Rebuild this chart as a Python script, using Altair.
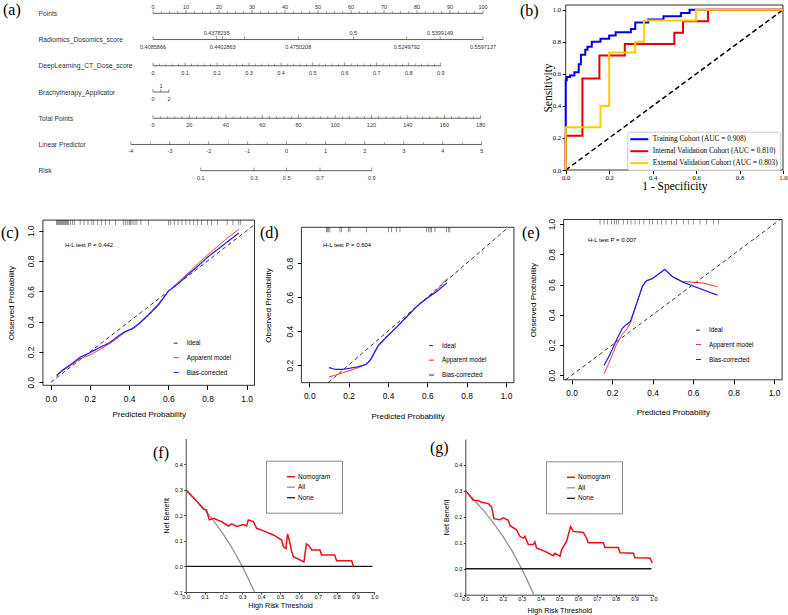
import altair as alt
import pandas as pd
import numpy as np

W, H = 788, 615
SANS = "Liberation Sans"
SERIF = "Liberation Serif"

# ---------------- (a) nomogram data ----------------
nomo_rows = ["Points", "Radiomics_Dosomics_score", "DeepLearning_CT_Dose_score",
             "Brachytherapy_Applicator", "Total Points", "Linear Predictor", "Risk"]
nomo_line_start = [0, 0, 0, 0, 0, -6.7, 14.5]
nomo_line_end = [100, 100, 87.2, 4.85, 99.3, 99.6, 66.3]

points_labels = ["0", "10", "20", "30", "40", "50", "60", "70", "80", "90", "100"]
points_pos = [0, 10, 20, 30, 40, 50, 60, 70, 80, 90, 100]
radio_above_labels = ["0.4378235", "0.5", "0.5399149"]
radio_above_pos = [19.3, 60.7, 87.0]
radio_below_labels = ["0.4085866", "0.4402863", "0.4750208", "0.5249792", "0.5597137"]
radio_below_pos = [0, 21.1, 44.0, 76.9, 100]
radio_extra_tick_pos = [27.7]
deep_labels = ["0", "0.1", "0.2", "0.3", "0.4", "0.5", "0.6", "0.7", "0.8", "0.9"]
deep_pos = [0, 9.7, 19.4, 29.1, 38.8, 48.4, 58.1, 67.8, 77.5, 87.2]
brachy_above_labels = ["1"]
brachy_above_pos = [2.4]
brachy_below_labels = ["0", "2"]
brachy_below_pos = [0, 4.85]
total_labels = ["0", "20", "40", "60", "80", "100", "120", "140", "160", "180"]
total_pos = [0, 11.0, 22.1, 33.1, 44.1, 55.2, 66.2, 77.2, 88.3, 99.3]
lp_labels = ["-4", "-3", "-2", "-1", "0", "1", "2", "3", "4", "5"]
lp_pos = [-6.7, 5.1, 16.9, 28.7, 40.5, 52.3, 64.2, 76.0, 87.8, 99.6]
risk_labels = ["0.1", "0.3", "0.5", "0.7", "0.9"]
risk_pos = [14.5, 30.6, 40.5, 50.6, 66.3]
minor_div = {"Points": 4, "DeepLearning_CT_Dose_score": 5, "Total Points": 5, "Linear Predictor": 2}

# ---------------- (b) ROC data ----------------
cohorts = ["Training Cohort (AUC = 0.908)", "Internal Validation Cohort (AUC = 0.810)",
           "External Validation Cohort (AUC = 0.803)"]
train_fpr = [0, 0, 0.005, 0.005, 0.02, 0.02, 0.04, 0.04, 0.06, 0.06, 0.07, 0.07, 0.09, 0.09, 0.10, 0.10,
             0.12, 0.12, 0.16, 0.16, 0.20, 0.20, 0.23, 0.23, 0.30, 0.30, 0.32, 0.32, 0.38, 0.38, 0.45, 0.45,
             0.53, 0.53, 0.57, 0.57, 1.0]
train_tpr = [0, 0.56, 0.56, 0.58, 0.58, 0.59, 0.59, 0.61, 0.61, 0.66, 0.66, 0.72, 0.72, 0.75, 0.75, 0.77,
             0.77, 0.80, 0.80, 0.82, 0.82, 0.84, 0.84, 0.86, 0.86, 0.88, 0.88, 0.92, 0.92, 0.94, 0.94, 0.96,
             0.96, 0.98, 0.98, 1.0, 1.0]
int_fpr = [0, 0, 0.077, 0.077, 0.155, 0.155, 0.272, 0.272, 0.5, 0.5, 0.54, 0.54, 0.655, 0.655, 1.0]
int_tpr = [0, 0.214, 0.214, 0.571, 0.571, 0.714, 0.714, 0.786, 0.786, 0.857, 0.857, 0.929, 0.929, 1.0, 1.0]
ext_fpr = [0, 0, 0.16, 0.16, 0.2, 0.2, 0.32, 0.32, 0.36, 0.36, 0.6, 0.6, 1.0]
ext_tpr = [0, 0.267, 0.267, 0.4, 0.4, 0.733, 0.733, 0.8, 0.8, 0.933, 0.933, 1.0, 1.0]
roc_diag = [0, 1]

# ---------------- (c)(d)(e) calibration data ----------------
cal_series = ["Ideal", "Apparent model", "Bias-corrected"]
c_pred = [0.03, 0.06, 0.10, 0.15, 0.20, 0.25, 0.30, 0.35, 0.38, 0.42, 0.45, 0.50, 0.55, 0.60, 0.65, 0.70,
          0.75, 0.80, 0.85, 0.90, 0.96]
c_app = [0.04, 0.075, 0.11, 0.155, 0.18, 0.215, 0.255, 0.30, 0.33, 0.36, 0.39, 0.45, 0.52, 0.60, 0.66, 0.72,
         0.78, 0.84, 0.895, 0.95, 1.01]
c_bias = [0.045, 0.08, 0.115, 0.165, 0.195, 0.23, 0.26, 0.31, 0.335, 0.355, 0.385, 0.445, 0.51, 0.60, 0.65,
          0.71, 0.765, 0.825, 0.875, 0.925, 0.985]
c_rug = [0.03, 0.035, 0.04, 0.045, 0.05, 0.055, 0.06, 0.065, 0.07, 0.075, 0.08, 0.085, 0.09, 0.1, 0.11,
         0.12, 0.15, 0.17, 0.19, 0.21, 0.22, 0.24, 0.26, 0.28, 0.3, 0.33, 0.37, 0.38, 0.39, 0.4, 0.405,
         0.41, 0.42, 0.43, 0.44, 0.46, 0.5, 0.6, 0.61, 0.63, 0.65, 0.67, 0.69, 0.71, 0.73, 0.75, 0.77,
         0.8, 0.82, 0.85, 0.9, 0.93, 0.96, 0.97]
c_diag = [0.0, 1.04]

d_pred = [0.10, 0.13, 0.17, 0.20, 0.25, 0.29, 0.31, 0.35, 0.40, 0.45, 0.50, 0.55, 0.60, 0.65, 0.70]
d_app = [0.13, 0.14, 0.155, 0.165, 0.185, 0.205, 0.225, 0.31, 0.37, 0.43, 0.49, 0.55, 0.595, 0.645, 0.71]
d_bias = [0.185, 0.175, 0.175, 0.18, 0.19, 0.205, 0.23, 0.315, 0.375, 0.43, 0.49, 0.55, 0.595, 0.635, 0.685]
d_rug = [0.088, 0.093, 0.097, 0.105, 0.156, 0.164, 0.198, 0.207, 0.292, 0.402, 0.419, 0.444, 0.461,
         0.597, 0.605, 0.614, 0.622, 0.639, 0.698, 0.707, 0.715]
d_diag = [0.096, 1.012]

e_pred = [0.16, 0.19, 0.22, 0.25, 0.27, 0.29, 0.32, 0.35, 0.37, 0.40, 0.43, 0.46, 0.50, 0.55, 0.60, 0.65, 0.72]
e_app = [0.01, 0.10, 0.20, 0.27, 0.30, 0.345, 0.47, 0.59, 0.625, 0.64, 0.67, 0.70, 0.65, 0.62, 0.615, 0.61, 0.585]
e_bias = [0.065, 0.14, 0.23, 0.31, 0.335, 0.355, 0.47, 0.59, 0.625, 0.64, 0.67, 0.70, 0.65, 0.615, 0.59, 0.565, 0.53]
e_rug = [0.14, 0.16, 0.176, 0.198, 0.211, 0.222, 0.232, 0.255, 0.275, 0.293, 0.313, 0.334, 0.357, 0.384,
         0.4, 0.423, 0.445, 0.466, 0.494, 0.519, 0.552, 0.576, 0.601, 0.634, 0.667, 0.7, 0.725]
e_diag = [-0.03, 1.03]

# ---------------- (f)(g) decision curves ----------------
dca_series = ["Nomogram", "All", "None"]
all_t = [0, 0.05, 0.1, 0.15, 0.2, 0.25, 0.3, 0.33, 0.365]
all_nb = [0.3, 0.263, 0.222, 0.176, 0.125, 0.067, 0.0, -0.045, -0.1]
none_t = [0, 0.99]
none_nb = [0, 0]
f_t = [0.0, 0.05, 0.094, 0.11, 0.125, 0.147, 0.19, 0.226, 0.244, 0.27, 0.306, 0.323, 0.332, 0.359, 0.376,
       0.41, 0.465, 0.509, 0.518, 0.532, 0.54, 0.549, 0.562, 0.571, 0.627, 0.64, 0.655, 0.668, 0.712, 0.72,
       0.79, 0.80, 0.88, 0.89]
f_nb = [0.30, 0.262, 0.224, 0.221, 0.182, 0.188, 0.175, 0.158, 0.166, 0.156, 0.164, 0.158, 0.182, 0.175,
        0.149, 0.14, 0.123, 0.103, 0.077, 0.07, 0.127, 0.103, 0.058, 0.038, 0.018, 0.088, 0.08, 0.064, 0.064,
        0.045, 0.045, 0.022, 0.022, 0.0]
g_t = [0.0, 0.043, 0.069, 0.087, 0.122, 0.14, 0.152, 0.184, 0.202, 0.229, 0.238, 0.273, 0.29, 0.309, 0.317,
       0.335, 0.362, 0.37, 0.379, 0.424, 0.468, 0.477, 0.504, 0.512, 0.539, 0.56, 0.574, 0.628, 0.645, 0.654,
       0.734, 0.743, 0.814, 0.823, 0.894, 0.902, 0.982, 0.995]
g_nb = [0.302, 0.264, 0.263, 0.256, 0.251, 0.238, 0.193, 0.189, 0.196, 0.187, 0.166, 0.15, 0.125, 0.118,
        0.125, 0.093, 0.093, 0.103, 0.08, 0.067, 0.05, 0.06, 0.048, 0.073, 0.106, 0.163, 0.144, 0.14, 0.118,
        0.10, 0.10, 0.082, 0.082, 0.062, 0.06, 0.042, 0.041, 0.022]


def lin(v0, v1, r0, r1):
    return alt.Scale(domain=[v0, v1], range=[r0, r1], nice=False, zero=False)


def num_expr(fmt):
    return ("datum.value < 0 ? '-' + format(-datum.value, '" + fmt + "') : format(datum.value, '"
            + fmt + "')")


def xaxis(y_px, values, title, title_y, font, lsize, tsize, tick, pad, domain=False, fmt=".1f",
          color="black"):
    return alt.Axis(orient="bottom", offset=y_px - H, values=values, title=title,
                    titleY=title_y - y_px, titleBaseline="middle", titleFont=font, titleFontSize=tsize,
                    titleFontWeight="normal", titleColor="black", labelFont=font, labelFontSize=lsize,
                    labelColor="black", tickSize=tick, labelPadding=pad, labelFlush=False,
                    labelOverlap=False, grid=False, domain=domain, domainColor=color, tickColor=color,
                    labelExpr=num_expr(fmt))


def yaxis(x_px, values, title, title_x, font, lsize, tsize, tick, pad, rotated=False, domain=False,
          fmt=".1f", color="black"):
    extra = {}
    if rotated:
        extra = dict(labelAngle=270, labelAlign="center", labelBaseline="bottom")
    return alt.Axis(orient="left", offset=-x_px, values=values, title=title, titleX=title_x - x_px,
                    titleBaseline="middle", titleFont=font, titleFontSize=tsize, titleFontWeight="normal",
                    titleColor="black", labelFont=font, labelFontSize=lsize, labelColor="black",
                    tickSize=tick, labelPadding=pad, labelFlush=False, labelOverlap=False, grid=False,
                    domain=domain, domainColor=color, tickColor=color, labelExpr=num_expr(fmt), **extra)


units = []

# ================= (a) nomogram panel =================
nx = lin(0, 100, 153, 483)
ny = alt.Scale(type="point", domain=nomo_rows, range=[13.3, 170.7], padding=0)

lines_df = pd.DataFrame({"row": nomo_rows, "start": nomo_line_start, "end": nomo_line_end})
specs = [
    ("Points", points_labels, points_pos, "above"),
    ("Radiomics_Dosomics_score", radio_above_labels, radio_above_pos, "above"),
    ("Radiomics_Dosomics_score", radio_below_labels, radio_below_pos, "below"),
    ("DeepLearning_CT_Dose_score", deep_labels, deep_pos, "below"),
    ("Brachytherapy_Applicator", brachy_above_labels, brachy_above_pos, "above"),
    ("Brachytherapy_Applicator", brachy_below_labels, brachy_below_pos, "below"),
    ("Total Points", total_labels, total_pos, "below"),
    ("Linear Predictor", lp_labels, lp_pos, "below"),
    ("Risk", risk_labels, risk_pos, "below"),
]
lab_rows = []
for row, labs, pos, side in specs:
    for l, p in zip(labs, pos):
        lab_rows.append({"row": row, "pos": p, "label": l, "side": side})
lab_df = pd.DataFrame(lab_rows)
major_df = pd.concat([lab_df[["row", "pos"]],
                      pd.DataFrame({"row": ["Radiomics_Dosomics_score"] * len(radio_extra_tick_pos),
                                    "pos": radio_extra_tick_pos})], ignore_index=True)
minor_rows = []
pos_lookup = {"Points": points_pos, "DeepLearning_CT_Dose_score": deep_pos, "Total Points": total_pos,
              "Linear Predictor": lp_pos}
for row, div in minor_div.items():
    ps = pos_lookup[row]
    for a, b in zip(ps[:-1], ps[1:]):
        for v in np.linspace(a, b, div + 1)[1:-1]:
            minor_rows.append({"row": row, "pos": float(v)})
minor_df = pd.DataFrame(minor_rows)

ncol = "#3a3a3a"
units.append(alt.Chart(lines_df).mark_rule(color=ncol, strokeWidth=0.8).encode(
    x=alt.X("start:Q", scale=nx, axis=None), x2="end",
    y=alt.Y("row:N", scale=ny, sort=nomo_rows,
            axis=alt.Axis(orient="left", offset=-38, domain=False, ticks=False, tickSize=0, labelPadding=0,
                          labelAlign="left", labelFont=SANS, labelFontSize=6.7, labelColor="#333333",
                          title=None, labelLimit=200))))
units.append(alt.Chart(major_df).mark_tick(color=ncol, size=3.5, thickness=0.7, yOffset=-1.5).encode(
    x=alt.X("pos:Q", scale=nx, axis=None), y=alt.Y("row:N", scale=ny, sort=nomo_rows, axis=None)))
units.append(alt.Chart(minor_df).mark_tick(color=ncol, size=2.5, thickness=0.6, yOffset=-1).encode(
    x=alt.X("pos:Q", scale=nx, axis=None), y=alt.Y("row:N", scale=ny, sort=nomo_rows, axis=None)))
units.append(alt.Chart(lab_df[lab_df.side == "above"]).mark_text(
    font=SANS, fontSize=5.5, color="#333333", baseline="middle", dy=-6.5).encode(
    x=alt.X("pos:Q", scale=nx, axis=None), y=alt.Y("row:N", scale=ny, sort=nomo_rows, axis=None),
    text="label:N"))
units.append(alt.Chart(lab_df[lab_df.side == "below"]).mark_text(
    font=SANS, fontSize=5.5, color="#333333", baseline="middle", dy=7).encode(
    x=alt.X("pos:Q", scale=nx, axis=None), y=alt.Y("row:N", scale=ny, sort=nomo_rows, axis=None),
    text="label:N"))

# ================= (b) ROC panel =================
bx = lin(0, 1, 565.7, 783)
by = lin(0, 1.03, 170, 5)
roc_df = pd.concat([
    pd.DataFrame({"c": cohorts[0], "i": range(len(train_fpr)), "fpr": train_fpr, "tpr": train_tpr}),
    pd.DataFrame({"c": cohorts[1], "i": range(len(int_fpr)), "fpr": int_fpr, "tpr": int_tpr}),
    pd.DataFrame({"c": cohorts[2], "i": range(len(ext_fpr)), "fpr": ext_fpr, "tpr": ext_tpr}),
], ignore_index=True)
box_b = pd.DataFrame({"x0": [0], "x1": [1], "y0": [0], "y1": [1.03]})
units.append(alt.Chart(box_b).mark_rect(fillOpacity=0, stroke="black", strokeWidth=0.8).encode(
    x=alt.X("x0:Q", scale=bx, axis=xaxis(170, [0, 0.2, 0.4, 0.6, 0.8, 1.0], "1 - Specificity", 186.7,
                                         SERIF, 6.7, 11.5, 3.5, 1)),
    x2="x1",
    y=alt.Y("y0:Q", scale=by, axis=yaxis(565.7, [0, 0.2, 0.4, 0.6, 0.8, 1.0], "Sensitivity", 548.3,
                                         SERIF, 6.7, 11.5, 3.5, 1.5)),
    y2="y1"))
units.append(alt.Chart(pd.DataFrame({"x": roc_diag, "y": roc_diag})).mark_line(
    color="black", strokeDash=[5, 3], strokeWidth=1.5).encode(
    x=alt.X("x:Q", scale=bx, axis=None), y=alt.Y("y:Q", scale=by, axis=None)))
units.append(alt.Chart(roc_df).mark_line(strokeWidth=2).encode(
    x=alt.X("fpr:Q", scale=bx, axis=None), y=alt.Y("tpr:Q", scale=by, axis=None),
    order="i:Q",
    color=alt.Color("c:N", scale=alt.Scale(domain=cohorts, range=["#0000e6", "#e60000", "#ffcc00"]),
                    legend=alt.Legend(orient="none", legendX=627.3, legendY=131.7, title=None,
                                      labelFont=SERIF, labelFontSize=7.3, labelColor="black",
                                      symbolType="M-2,0H2", symbolSize=81, symbolStrokeWidth=2,
                                      symbolOffset=4.5, labelOffset=8, strokeColor="#cccccc",
                                      fillColor="white", cornerRadius=2, padding=2, rowPadding=2,
                                      labelLimit=300))))


# ================= (c)(d)(e) calibration panels =================
def cal_panel(xr, ydom, yr, yvals, diag, pred, app, bias, rug, xlab_pad, xtitle_y, ytitle_x,
              leg_xy, hl_text, hl_xy):
    xs = lin(-0.04, 1.04, xr[0], xr[1])
    ys = lin(ydom[0], ydom[1], yr[0], yr[1])
    cs = alt.Scale(domain=cal_series, range=["black", "#ff1a1a", "#1a1aff"])
    dash = alt.Scale(domain=cal_series, range=[[4, 3], [1, 0], [1, 0]])
    widths = alt.Scale(domain=cal_series, range=[0.8, 1.2, 1.2])
    box = pd.DataFrame({"x0": [-0.04], "x1": [1.04], "y0": [ydom[0]], "y1": [ydom[1]]})
    out = []
    out.append(alt.Chart(box).mark_rect(fillOpacity=0, stroke="black", strokeWidth=0.8).encode(
        x=alt.X("x0:Q", scale=xs, axis=xaxis(yr[0], [0, 0.2, 0.4, 0.6, 0.8, 1.0], "Predicted Probability",
                                             xtitle_y, SANS, 8.4, 8, 4, xlab_pad)),
        x2="x1",
        y=alt.Y("y0:Q", scale=ys, axis=yaxis(xr[0], yvals, "Observed Probability", ytitle_x, SANS, 8.4, 8,
                                             4, 3, rotated=True)),
        y2="y1"))
    cdf = pd.concat([
        pd.DataFrame({"p": diag, "o": diag, "s": "Ideal", "k": 0}),
        pd.DataFrame({"p": pred, "o": app, "s": "Apparent model", "k": 1}),
        pd.DataFrame({"p": pred, "o": bias, "s": "Bias-corrected", "k": 2}),
    ], ignore_index=True)
    out.append(alt.Chart(cdf).mark_line().encode(
        x=alt.X("p:Q", scale=xs, axis=None), y=alt.Y("o:Q", scale=ys, axis=None),
        strokeDash=alt.StrokeDash("s:N", scale=dash, legend=None),
        strokeWidth=alt.StrokeWidth("s:N", scale=widths, legend=None),
        color=alt.Color("s:N", scale=cs,
                        legend=alt.Legend(orient="none", legendX=leg_xy[0], legendY=leg_xy[1], title=None,
                                          labelFont=SANS, labelFontSize=6.3, labelColor="black",
                                          symbolType="stroke", symbolSize=25, symbolStrokeWidth=1.2,
                                          labelOffset=7, padding=0, rowPadding=7.5))))
    out.append(alt.Chart(pd.DataFrame({"p": rug})).mark_tick(
        orient="vertical", size=5, thickness=0.6, color="black", yOffset=2.5).encode(
        x=alt.X("p:Q", scale=xs, axis=None),
        y=alt.YDatum(ydom[1], type="quantitative", scale=ys, axis=None)))
    out.append(alt.Chart(pd.DataFrame({"t": [hl_text]})).mark_text(
        font=SANS, fontSize=6, align="left", baseline="middle", color="black").encode(
        x=alt.value(hl_xy[0]), y=alt.value(hl_xy[1]), text="t:N"))
    return out


units += cal_panel([42.9, 254.5], [-0.02, 1.07], [385.3, 220.1], [0, 0.2, 0.4, 0.6, 0.8, 1.0], c_diag,
                   c_pred, c_app, c_bias, c_rug, 5, 414.3, 11, [172.7, 340], "H-L test P = 0.442",
                   [65, 245])
units += cal_panel([301.4, 513.9], [0.096, 1.012], [382.7, 227.3], [0.2, 0.4, 0.6, 0.8], d_diag,
                   d_pred, d_app, d_bias, d_rug, 5, 416.7, 268.3, [428, 342.5], "H-L test P = 0.604",
                   [323, 245])
units += cal_panel([563.6, 782.1], [-0.03, 1.03], [379.8, 219.5], [0, 0.2, 0.4, 0.6, 0.8, 1.0], e_diag,
                   e_pred, e_app, e_bias, e_rug, 5, 412.7, 533.3, [695, 327], "H-L test P = 0.007",
                   [588, 240])


# ================= (f)(g) decision curve panels =================
def dca_panel(xr, yr, nom_t, nom_nb, xtitle_y, ytitle_x, leg_xy):
    xs = lin(0, 1, xr[0], xr[1])
    ys = lin(-0.1, 0.5, yr[0], yr[1])
    cs = alt.Scale(domain=dca_series, range=["#e8101e", "#9a9a9a", "#1a1a1a"])
    widths = alt.Scale(domain=dca_series, range=[1.5, 1.3, 1.5])
    ddf = pd.concat([
        pd.DataFrame({"t": all_t, "nb": all_nb, "s": "All", "k": 0}),
        pd.DataFrame({"t": none_t, "nb": none_nb, "s": "None", "k": 1}),
        pd.DataFrame({"t": nom_t, "nb": nom_nb, "s": "Nomogram", "k": 2}),
    ], ignore_index=True)
    return [alt.Chart(ddf).mark_line().encode(
        x=alt.X("t:Q", scale=xs, axis=xaxis(yr[0], [round(0.1 * i, 1) for i in range(11)],
                                            "High Risk Threshold", xtitle_y, SANS, 5.5, 7.2, 2, 0,
                                            domain=True, color="#444444")),
        y=alt.Y("nb:Q", scale=ys, axis=yaxis(xr[0], [-0.1, 0, 0.1, 0.2, 0.3, 0.4], "Net Benefit",
                                             ytitle_x, SANS, 5.5, 7.2, 2, 1.5, domain=True,
                                             color="#444444")),
        strokeWidth=alt.StrokeWidth("s:N", scale=widths, legend=None),
        color=alt.Color("s:N", scale=cs,
                        legend=alt.Legend(orient="none", legendX=leg_xy[0], legendY=leg_xy[1], title=None,
                                          labelFont=SANS, labelFontSize=6.5, labelColor="black",
                                          symbolType="stroke", symbolSize=64, symbolStrokeWidth=1.5,
                                          symbolOffset=9, labelOffset=2, padding=11, rowPadding=1.5,
                                          strokeColor="#8a8a8a",
                                          labelExpr="datum.label + '          '")))]


units += dca_panel([185.7, 374.3], [592, 438.5], f_t, f_nb, 605.7, 166.7, [266, 460.7])
units += dca_panel([465.3, 653.3], [594.7, 439], g_t, g_nb, 610.7, 446.7, [546, 461.3])


# ================= panel letters =================
def letter(txt, x, y):
    return alt.Chart(pd.DataFrame({"t": [txt]})).mark_text(
        font=SERIF, fontSize=16, align="left", baseline="middle", color="black").encode(
        x=alt.value(x), y=alt.value(y), text="t:N")


units += [letter("(a)", 3, 10), letter("(b)", 520, 11), letter("(c)", 1, 233), letter("(d)", 260, 233),
          letter("(e)", 522, 233), letter("(f)", 153, 453), letter("(g)", 430, 448)]

chart = alt.layer(*units).resolve_scale(
    x="independent", y="independent", color="independent", strokeDash="independent",
    strokeWidth="independent"
).properties(
    width=W, height=H, padding=0, autosize=alt.AutoSizeParams(type="none"), background="white"
).configure_view(strokeWidth=0)

chart.save("out.html", embed_options={"renderer": "svg", "actions": False})
